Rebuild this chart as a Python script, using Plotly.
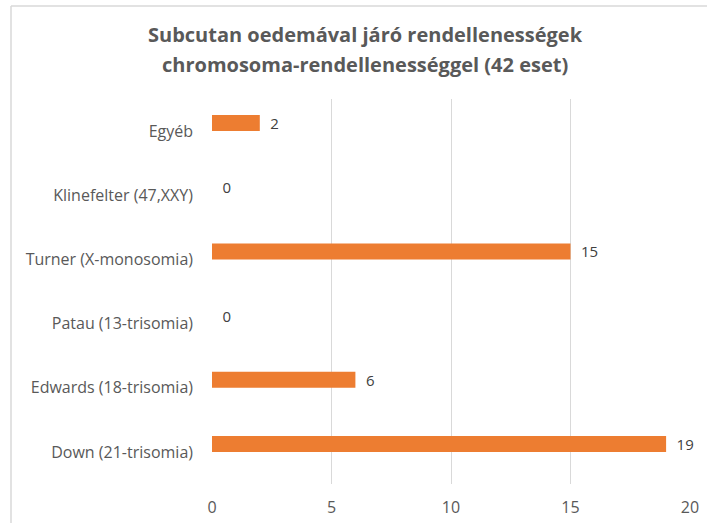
import plotly.graph_objects as go

categories = ["Down (21-trisomia)", "Edwards (18-trisomia)", "Patau (13-trisomia)",
              "Turner (X-monosomia)", "Klinefelter (47,XXY)", "Egyéb"]
values = [19, 6, 0, 15, 0, 2]
x_ticks = [0, 5, 10, 15, 20]

title_lines = ["Subcutan oedemával járó rendellenességek",
               "chromosoma-rendellenességgel (42 eset)"]

W, H = 707, 523
L, R, T, B = 212, 17, 99, 39
PW, PH = W - L - R, H - T - B

fig = go.Figure()
fig.add_trace(go.Bar(
    y=categories, x=values, orientation="h",
    width=0.25, offset=0,
    marker=dict(color="#ED7D31", line=dict(width=0)),
    text=["\u2002" + str(v) for v in values], textposition="outside",
    constraintext="none",
    textfont=dict(color="#404040", size=15, family="Open Sans"),
    cliponaxis=False,
))

annotations = []
for i, line in enumerate(title_lines):
    annotations.append(dict(
        text="<b>" + line + "</b>", xref="paper", yref="paper",
        x=(365 - L) / PW, y=1 + (T - (34 + 30 * i)) / PH,
        xanchor="center", yanchor="middle", showarrow=False,
        font=dict(size=20, color="#595959", family="Open Sans")))

fig.update_layout(
    width=W, height=H,
    margin=dict(l=L, r=R, t=T, b=B, autoexpand=False),
    paper_bgcolor="white", plot_bgcolor="white",
    showlegend=False,
    font=dict(family="Open Sans", color="#595959", size=16),
    annotations=annotations,
    xaxis=dict(range=[0, 20], tickvals=x_ticks, showgrid=True, gridcolor="#D9D9D9",
               gridwidth=1, zeroline=False, showline=False, ticks="",
               ticklabelstandoff=12, automargin=False,
               tickfont=dict(size=16, color="#595959")),
    yaxis=dict(range=[-0.5, 5.5], showgrid=False, zeroline=False, showline=False,
               ticks="", ticklabelstandoff=18, automargin=False,
               tickfont=dict(size=16, color="#595959")),
    shapes=[
        dict(type="line", xref="paper", yref="paper",
             x0=(11 - L) / PW, x1=(W - L) / PW,
             y0=1 + (T - 6) / PH, y1=1 + (T - 6) / PH,
             line=dict(color="#D9D9D9", width=1.5)),
        dict(type="line", xref="paper", yref="paper",
             x0=(11 - L) / PW, x1=(11 - L) / PW,
             y0=1 + (T - 6) / PH, y1=-B / PH,
             line=dict(color="#D9D9D9", width=1.5)),
    ],
)

fig.write_html("out.html", config={"displayModeBar": False},
               post_script="document.body.style.margin='0';document.body.style.overflow='hidden';")
